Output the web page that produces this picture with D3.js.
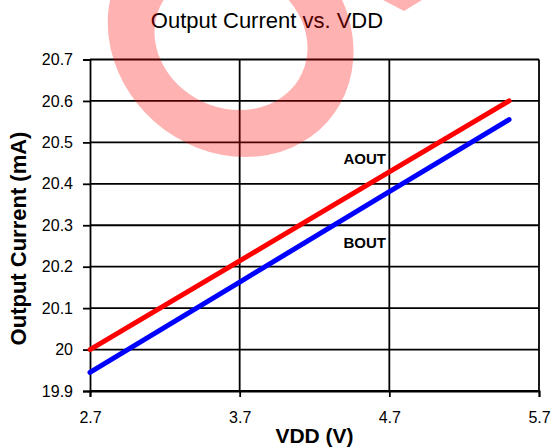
<!DOCTYPE html>
<html>
<head>
<meta charset="utf-8">
<script src="https://cdn.jsdelivr.net/npm/d3@7/dist/d3.min.js"></script>
<style>
body { margin: 0; background: #fff; }
svg text { font-family: "Liberation Sans", Arial, sans-serif; fill: #000; }
</style>
</head>
<body>
<div id="canvas"></div>
<script>
// values
var vdd = [2.7, 3.7, 4.7, 5.5];
var aout = [20.0, 20.214, 20.429, 20.6];
var bout = [19.945, 20.163, 20.381, 20.555];
var xTicks = [2.7, 3.7, 4.7, 5.7];
var yTicks = [19.9, 20.0, 20.1, 20.2, 20.3, 20.4, 20.5, 20.6, 20.7];

var width = 551, height = 448;
var plot = { left: 90, right: 539, top: 59.5, bottom: 391 };

var svg = d3.select(document.getElementById("canvas")).append("svg")
    .attr("width", width)
    .attr("height", height);

var x = d3.scaleLinear().domain([2.7, 5.7]).range([plot.left, plot.right]);
var y = d3.scaleLinear().domain([19.9, 20.7]).range([plot.bottom, plot.top]);

// grid lines
svg.append("g").selectAll("line").data(yTicks).enter().append("line")
    .attr("x1", plot.left).attr("x2", plot.right)
    .attr("y1", function(d) { return y(d); })
    .attr("y2", function(d) { return y(d); })
    .attr("stroke", "#000").attr("stroke-width", 1.8);

svg.append("g").selectAll("line").data(xTicks.slice(1)).enter().append("line")
    .attr("x1", function(d) { return x(d); })
    .attr("x2", function(d) { return x(d); })
    .attr("y1", plot.top).attr("y2", plot.bottom)
    .attr("stroke", "#000").attr("stroke-width", 1.8);

// axes
var yAxis = d3.axisLeft(y).tickValues(yTicks).tickSize(7).tickPadding(10)
    .tickFormat(function(d) { return d3.format("")(+d.toFixed(1)); });
var xAxis = d3.axisBottom(x).tickValues(xTicks).tickSize(6).tickPadding(15)
    .tickFormat(d3.format(".1f"));

var gy = svg.append("g").attr("transform", "translate(" + plot.left + ",0)").call(yAxis);
var gx = svg.append("g").attr("transform", "translate(0," + plot.bottom + ")").call(xAxis);

[gx, gy].forEach(function(g) {
    g.attr("font-size", null).attr("font-family", null);
    g.select(".domain").attr("stroke", "#000").attr("stroke-width", 1.8);
    g.selectAll(".tick line").attr("stroke", "#000").attr("stroke-width", 1.8);
    g.selectAll(".tick text").style("font-size", "16px").attr("fill", "#000");
});

// series lines
var line = d3.line()
    .x(function(d) { return x(d[0]); })
    .y(function(d) { return y(d[1]); });

svg.append("path").datum(d3.zip(vdd, aout)).attr("d", line)
    .attr("fill", "none").attr("stroke", "#ff0000").attr("stroke-width", 5)
    .attr("stroke-linecap", "round");
svg.append("path").datum(d3.zip(vdd, bout)).attr("d", line)
    .attr("fill", "none").attr("stroke", "#0000ff").attr("stroke-width", 5)
    .attr("stroke-linecap", "round");

// series labels
svg.append("text").attr("x", 386).attr("y", 164).attr("text-anchor", "end")
    .style("font-size", "15px").attr("font-weight", "bold").text("AOUT");
svg.append("text").attr("x", 386).attr("y", 248).attr("text-anchor", "end")
    .style("font-size", "15px").attr("font-weight", "bold").text("BOUT");

// titles
svg.append("text").attr("x", 267).attr("y", 28).attr("text-anchor", "middle")
    .style("font-size", "22px").text("Output Current vs. VDD");
svg.append("text").attr("x", (plot.left + plot.right) / 2).attr("y", 443)
    .attr("text-anchor", "middle").style("font-size", "21px").attr("font-weight", "bold")
    .text("VDD (V)");
svg.append("text")
    .attr("transform", "translate(26,238.5) rotate(-90)")
    .attr("text-anchor", "middle").style("font-size", "22px").attr("font-weight", "bold")
    .text("Output Current (mA)");

// watermark over the chart, a tilted ring and a corner piece
var mark = svg.append("g").attr("fill", "#ff0000").attr("fill-opacity", 0.3);
mark.append("path").attr("fill-rule", "evenodd")
    .attr("transform", "translate(231,40) skewX(7)")
    .attr("d", ringPath(0, -3, 122, 120, 0, 0, 76, 70));
mark.append("path").attr("d", "M383,0 L422,0 L404,11 Z");

function ringPath(cx, cy, rx, ry, icx, icy, irx, iry) {
    return "M" + (cx - rx) + "," + cy +
        "a" + rx + "," + ry + " 0 1,0 " + (2 * rx) + ",0" +
        "a" + rx + "," + ry + " 0 1,0 " + (-2 * rx) + ",0Z" +
        "M" + (icx - irx) + "," + icy +
        "a" + irx + "," + iry + " 0 1,0 " + (2 * irx) + ",0" +
        "a" + irx + "," + iry + " 0 1,0 " + (-2 * irx) + ",0Z";
}
</script>
</body>
</html>
